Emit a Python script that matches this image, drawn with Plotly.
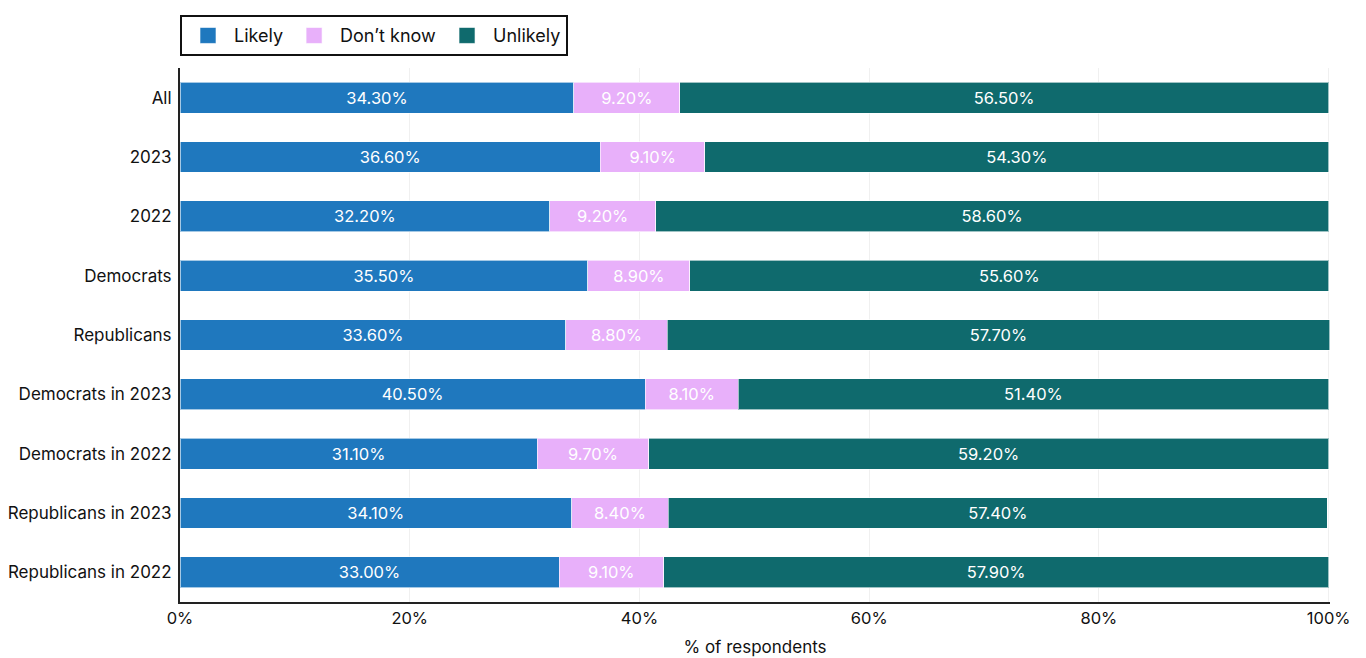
import plotly.graph_objects as go

# groups, top to bottom
groups = ["All", "2023", "2022", "Democrats", "Republicans",
          "Democrats in 2023", "Democrats in 2022",
          "Republicans in 2023", "Republicans in 2022"]

likely = [34.3, 36.6, 32.2, 35.5, 33.6, 40.5, 31.1, 34.1, 33.0]
dont_know = [9.2, 9.1, 9.2, 8.9, 8.8, 8.1, 9.7, 8.4, 9.1]
unlikely = [56.5, 54.3, 58.6, 55.6, 57.7, 51.4, 59.2, 57.4, 57.9]

x_ticks = [0, 20, 40, 60, 80, 100]
x_labels = ["0%", "20%", "40%", "60%", "80%", "100%"]

series = [("Likely", likely, "#1f78be"),
          ("Don\u2019t know", dont_know, "#e8b0fa"),
          ("Unlikely", unlikely, "#0f6a6d")]

fig = go.Figure()
for name, vals, col in series:
    fig.add_trace(go.Bar(
        y=groups, x=vals, name=name, orientation="h", showlegend=False,
        marker=dict(color=col, line=dict(color="rgba(255,255,255,0.6)", width=1)),
        text=["%.2f%%" % v for v in vals], textposition="inside",
        insidetextanchor="middle", constraintext="none",
        textfont=dict(color="white", size=16.5), cliponaxis=False,
    ))

# legend entries with bigger square swatches
for name, vals, col in series:
    fig.add_trace(go.Scatter(
        x=[None], y=[None], mode="markers", name=name, showlegend=True,
        marker=dict(symbol="square", size=16, color=col,
                    line=dict(color="rgba(255,255,255,0.6)", width=1)),
    ))

fig.update_layout(
    barmode="stack", bargap=0.48,
    width=1366, height=658,
    margin=dict(l=172, r=44, t=60, b=64, autoexpand=False),
    paper_bgcolor="white", plot_bgcolor="white",
    font=dict(family="Inter, Lato, sans-serif", size=16, color="#111"),
    uniformtext=dict(mode="show", minsize=16),
    legend=dict(orientation="h", x=0, xanchor="left", y=1.022, yanchor="bottom",
                traceorder="normal",
                bordercolor="#111", borderwidth=2, font=dict(size=18),
                itemwidth=42),
    showlegend=True,
)
fig.update_xaxes(range=[0, 100.12], tickvals=x_ticks, ticktext=x_labels,
                 showgrid=True, gridcolor="#f0f0f0", gridwidth=1,
                 showline=True, linecolor="#222", linewidth=2,
                 zeroline=False, ticks="", tickfont=dict(size=16.5), automargin=False,
                 title=dict(text="% of respondents", font=dict(size=17), standoff=14))
fig.update_yaxes(autorange="reversed", showline=True, linecolor="#222", linewidth=2,
                 showgrid=False, ticks="", tickfont=dict(size=17), automargin=False,
                 ticklabelstandoff=3)

fig.write_html("out.html")
